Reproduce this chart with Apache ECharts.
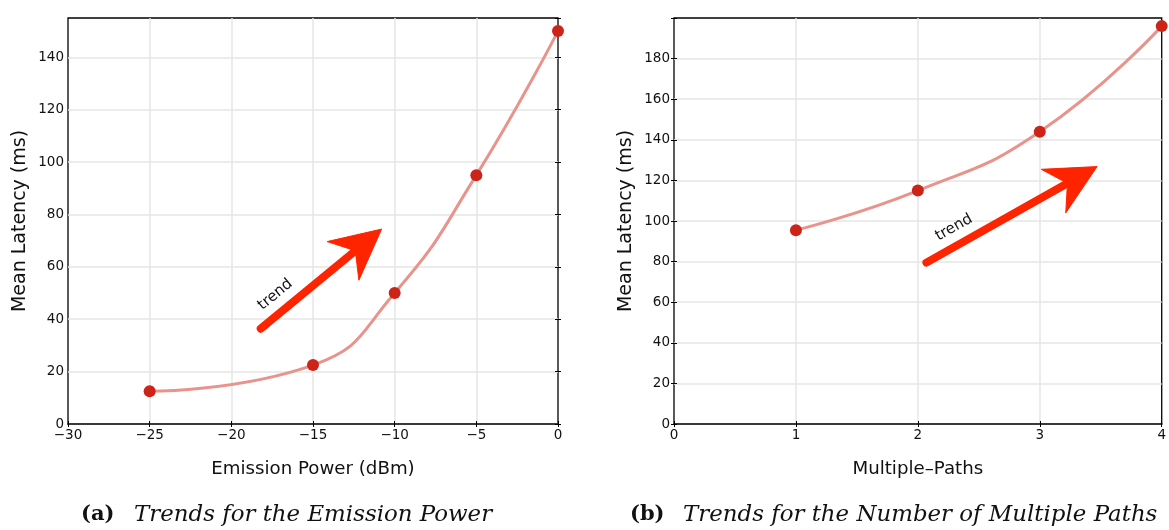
<!DOCTYPE html>
<html>
<head>
<meta charset="utf-8">
<script src="https://cdn.jsdelivr.net/npm/echarts@6/dist/echarts.min.js"></script>
<style>
  html, body { margin: 0; padding: 0; background: #fff; }
  #chart { width: 1169px; height: 530px; }
</style>
</head>
<body>
<div id="chart"></div>
<script>
// (a) latency against emission power
const powerLevels = [-25, -15, -10, -5, 0];
const powerLatency = [12.5, 22.5, 50, 95, 150];
// (b) latency against number of paths
const pathCounts = [1, 2, 3, 4];
const pathLatency = [95.5, 115, 144, 196];

// axis ranges and tick spacing
const powerAxisX = { min: -30, max: 0, interval: 5 };
const powerAxisY = { min: 0, max: 155, interval: 20 };
const pathAxisX = { min: 0, max: 4, interval: 1 };
const pathAxisY = { min: 0, max: 200, interval: 20 };

// trend arrows, tail and tip in data units
const powerTrend = [[-18.2, 36.4], [-10.8, 74.4]];
const pathTrend = [[2.07, 79.5], [3.47, 126.8]];

const axisTitles = {
  powerX: 'Emission Power (dBm)',
  pathX: 'Multiple\u2013Paths',
  latencyY: 'Mean Latency (ms)'
};
const captions = [
  { tag: '(a)', text: 'Trends for the Emission Power' },
  { tag: '(b)', text: 'Trends for the Number of Multiple Paths' }
];

const SANS = 'DejaVu Sans';
const SERIF = 'DejaVu Serif';
const LINE_COLOR = '#e8938b';
const DOT_COLOR = '#cc2418';
const ARROW_COLOR = '#ff2400';
const GRID_COLOR = '#e6e6e6';

const fmt = v => String(v).replace('-', '\u2212');

function mainAxis(range, gridIndex, position, name, isY) {
  return Object.assign({
    type: 'value',
    gridIndex: gridIndex,
    position: position,
    name: name,
    nameLocation: 'middle',
    nameGap: isY ? 38 : 36,
    nameTextStyle: { fontFamily: SANS, fontSize: isY ? 19 : 18.2, color: '#111' },
    axisLine: isY ? { show: false } : { show: true, lineStyle: { color: '#3a3a3a', width: 2 } },
    axisTick: { show: true, inside: false, length: 3, lineStyle: { color: '#000', width: 1 } },
    axisLabel: {
      fontFamily: SANS, fontSize: 13.5, color: '#111', margin: 4,
      formatter: fmt, showMaxLabel: !isY
    },
    splitLine: {
      show: true, showMinLine: false, showMaxLine: false,
      lineStyle: { color: GRID_COLOR, width: 1.5 }
    }
  }, range);
}

// ticks only: one copy points into the plot, one points out of it
function tickAxis(range, gridIndex, position, inside) {
  return Object.assign({
    type: 'value',
    gridIndex: gridIndex,
    position: position,
    axisLine: { show: false },
    axisLabel: { show: false },
    splitLine: { show: false },
    axisTick: { show: true, inside: inside, length: 3, lineStyle: { color: '#000', width: 1 } }
  }, range);
}

const chart = echarts.init(document.getElementById('chart'), null, { renderer: 'canvas' });

const option = {
  backgroundColor: '#fff',
  animation: false,
  grid: [
    { left: 68, top: 18, width: 490, height: 406, show: true, borderColor: '#000', borderWidth: 1.3, backgroundColor: 'transparent' },
    { left: 674, top: 18, width: 490, height: 406, show: true, borderColor: '#000', borderWidth: 1.3, backgroundColor: 'transparent' }
  ],
  xAxis: [
    mainAxis(powerAxisX, 0, 'bottom', axisTitles.powerX, false),
    tickAxis(powerAxisX, 0, 'bottom', true),
    tickAxis(powerAxisX, 0, 'top', true),
    tickAxis(powerAxisX, 0, 'top', false),
    mainAxis(pathAxisX, 1, 'bottom', axisTitles.pathX, false),
    tickAxis(pathAxisX, 1, 'bottom', true),
    tickAxis(pathAxisX, 1, 'top', true),
    tickAxis(pathAxisX, 1, 'top', false)
  ],
  yAxis: [
    mainAxis(powerAxisY, 0, 'left', axisTitles.latencyY, true),
    tickAxis(powerAxisY, 0, 'left', true),
    tickAxis(powerAxisY, 0, 'right', true),
    tickAxis(powerAxisY, 0, 'right', false),
    mainAxis(pathAxisY, 1, 'left', axisTitles.latencyY, true),
    tickAxis(pathAxisY, 1, 'left', true),
    tickAxis(pathAxisY, 1, 'right', true),
    tickAxis(pathAxisY, 1, 'right', false)
  ],
  series: [
    {
      type: 'line',
      xAxisIndex: 0, yAxisIndex: 0,
      data: powerLevels.map((x, i) => [x, powerLatency[i]]),
      smooth: 0.5,
      lineStyle: { color: LINE_COLOR, width: 3 },
      symbol: 'circle', symbolSize: 12,
      itemStyle: { color: DOT_COLOR },
      z: 5
    },
    {
      type: 'line',
      xAxisIndex: 4, yAxisIndex: 4,
      data: pathCounts.map((x, i) => [x, pathLatency[i]]),
      smooth: 0.5,
      lineStyle: { color: LINE_COLOR, width: 3 },
      symbol: 'circle', symbolSize: 12,
      itemStyle: { color: DOT_COLOR },
      z: 5
    }
  ]
};
chart.setOption(option);

// Arrow with a swept-back head, plus a label riding above the shaft
function trendArrow(seriesIndex, ends, label) {
  const p0 = chart.convertToPixel({ seriesIndex: seriesIndex }, ends[0]);
  const p1 = chart.convertToPixel({ seriesIndex: seriesIndex }, ends[1]);
  const dx = p1[0] - p0[0], dy = p1[1] - p0[1];
  const len = Math.hypot(dx, dy);
  const u = [dx / len, dy / len];
  const n = [-u[1], u[0]];
  const at = (base, a, b) => [base[0] + u[0] * a + n[0] * b, base[1] + u[1] * a + n[1] * b];
  const headLen = 50, headHalf = 25, notch = 34;
  const head = [p1, at(p1, -headLen, headHalf), at(p1, -notch, 0), at(p1, -headLen, -headHalf)];
  const shaftEnd = at(p1, -notch - 2, 0);
  const textPos = at(p0, len * 0.21, -17);
  return [
    {
      type: 'polyline', z: 20,
      shape: { points: [p0, shaftEnd] },
      style: { stroke: ARROW_COLOR, lineWidth: 8, lineCap: 'round', fill: null }
    },
    {
      type: 'polygon', z: 20,
      shape: { points: head },
      style: { fill: ARROW_COLOR, stroke: ARROW_COLOR, lineWidth: 1 }
    },
    {
      type: 'text', z: 21,
      x: textPos[0], y: textPos[1],
      rotation: Math.atan2(-dy, dx),
      style: { text: label, x: 0, y: 0, align: 'center', verticalAlign: 'middle', fontFamily: SANS, fontSize: 15, fill: '#111' }
    }
  ];
}

function caption(c, tagX, textX) {
  return [
    {
      type: 'text', x: tagX, y: 515,
      style: { text: c.tag, fontFamily: SERIF, fontWeight: 'bold', fontSize: 21, fill: '#111', align: 'left', verticalAlign: 'middle' }
    },
    {
      type: 'text', x: textX, y: 515,
      style: { text: c.text, fontFamily: SERIF, fontStyle: 'italic', fontSize: 22.9, fill: '#111', align: 'left', verticalAlign: 'middle' }
    }
  ];
}

chart.setOption({
  graphic: [].concat(
    trendArrow(0, powerTrend, 'trend'),
    trendArrow(1, pathTrend, 'trend'),
    caption(captions[0], 81, 134),
    caption(captions[1], 630, 683)
  )
});
</script>
</body>
</html>
